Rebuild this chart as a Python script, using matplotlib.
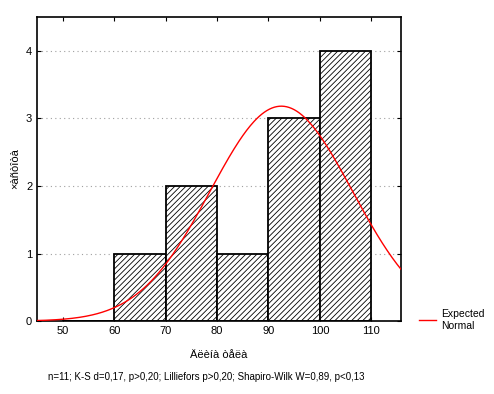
import numpy as np
import matplotlib.pyplot as plt

plt.rcParams['font.family'] = ['Liberation Sans', 'DejaVu Sans']
plt.rcParams['hatch.linewidth'] = 0.6

# histogram bins (left edges) and counts
bin_left = [50, 60, 70, 80, 90, 100]
counts = [0, 1, 2, 1, 3, 4]
bin_width = 10
n_obs = 11

# expected normal parameters
norm_mean = 92.5
norm_sd = 13.8

x_ticks = [50, 60, 70, 80, 90, 100, 110]
y_ticks = [0, 1, 2, 3, 4]

fig = plt.figure(figsize=(4.94, 3.94), dpi=100)
ax = fig.add_axes([0.075, 0.185, 0.737, 0.772])

ax.yaxis.grid(True, linestyle=(0, (1, 3)), color='#a0a0a0', linewidth=0.8)
ax.set_axisbelow(True)

ax.bar(bin_left, counts, width=bin_width, align='edge', color='white',
       edgecolor='black', hatch='//////', linewidth=1.3, zorder=2)
# zero-height bins drawn as thick line
for bl, c in zip(bin_left, counts):
    if c == 0:
        ax.plot([bl, bl + bin_width], [0, 0], color='black', linewidth=2, zorder=3)

xs = np.linspace(44, 117, 300)
ys = n_obs * bin_width / (norm_sd * np.sqrt(2 * np.pi)) * np.exp(-(xs - norm_mean) ** 2 / (2 * norm_sd ** 2))
line, = ax.plot(xs, ys, color='red', linewidth=1.0, zorder=4)

ax.set_xlim(45, 115.8)
ax.set_ylim(0, 4.5)
ax.set_xticks(x_ticks)
ax.set_yticks(y_ticks)
ax.tick_params(direction='in', labelsize=8, length=3, top=True, right=True,
               labeltop=False, labelright=False)
for s in ax.spines.values():
    s.set_linewidth(1.2)

ax.set_xlabel('Äëèíà òåëà', fontsize=8, labelpad=10)
ax.set_ylabel('×àñòîòà', fontsize=8)

fig.legend([line], ['Expected\nNormal'], loc='center left',
           bbox_to_anchor=(0.84, 0.188), frameon=False, fontsize=7.5,
           handlelength=1.6, handletextpad=0.5, borderaxespad=0)

fig.text(0.097, 0.035, 'n=11; K-S d=0,17, p>0,20; Lilliefors p>0,20; Shapiro-Wilk W=0,89, p<0,13',
         fontsize=7)

plt.savefig('out.png', dpi=100)
